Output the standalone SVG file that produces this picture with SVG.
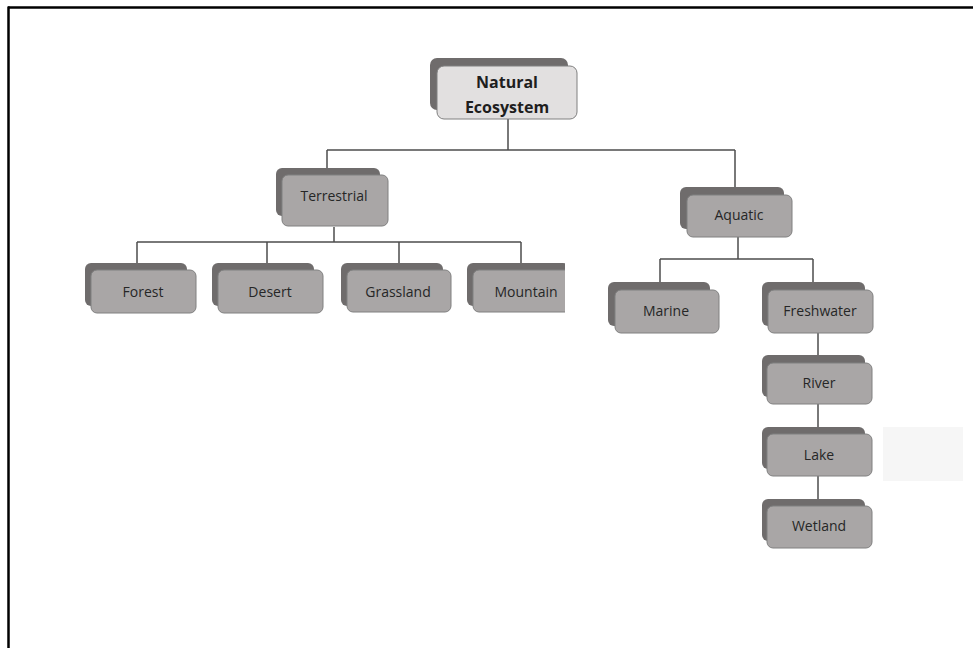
<svg xmlns="http://www.w3.org/2000/svg" width="973" height="648" viewBox="0 0 973 648">
<style>
.back{fill:#6f6c6c;}
.front{fill:#a9a6a6;stroke:#808080;stroke-width:1;}
.front-top{fill:#e2e0e0;stroke:#808080;stroke-width:1;}
.lbl{font-family:"Open Sans","Noto Sans",sans-serif;font-size:14px;fill:#262626;text-anchor:middle;}
.title{font-family:"Open Sans","Noto Sans",sans-serif;font-size:16px;font-weight:bold;fill:#1e1e1e;text-anchor:middle;}
.conn{stroke:#4d4d4d;stroke-width:1.5;fill:none;}
</style>
<defs>
<clipPath id="clipM"><rect x="0" y="0" width="565" height="648"/></clipPath>
</defs>
<rect width="973" height="648" fill="#fff"/>
<g id="frame">
<line x1="8" y1="7.5" x2="973" y2="7.5" stroke="#000" stroke-width="2.5"/>
<line x1="8.5" y1="6.5" x2="8.5" y2="648" stroke="#000" stroke-width="2.5"/>
</g>
<rect x="883" y="427" width="80" height="54" fill="#f6f6f6"/>
<g id="connectors">
<path class="conn" d="M508 119V150M327 150H735M327 150V168M735 150V187"/>
<path class="conn" d="M334 227V242M137 242H521M137 242V263M267 242V263M399 242V263M521 242V263"/>
<path class="conn" d="M738 237V259M660 259H813M660 259V282M813 259V282"/>
<path class="conn" d="M818 333V355M818 404V427M818 476V499"/>
</g>
<g id="natural-ecosystem">
<rect class="back" x="430" y="58" width="138" height="52" rx="7"/>
<rect class="front-top" x="437" y="66" width="140" height="53" rx="7"/>
<text class="title" x="507" y="88">Natural</text>
<text class="title" x="507" y="113">Ecosystem</text>
</g>
<g id="terrestrial">
<rect class="back" x="276" y="168" width="104" height="48" rx="6"/>
<rect class="front" x="282" y="175" width="106" height="51" rx="6"/>
<text class="lbl" x="334" y="201">Terrestrial</text>
</g>
<g id="aquatic">
<rect class="back" x="680" y="187" width="104" height="42" rx="6"/>
<rect class="front" x="687" y="195" width="105" height="42" rx="6"/>
<text class="lbl" x="739" y="220">Aquatic</text>
</g>
<g id="forest">
<rect class="back" x="85" y="263" width="102" height="43" rx="6"/>
<rect class="front" x="91" y="270" width="105" height="43" rx="6"/>
<text class="lbl" x="143" y="297">Forest</text>
</g>
<g id="desert">
<rect class="back" x="212" y="263" width="102" height="43" rx="6"/>
<rect class="front" x="218" y="270" width="105" height="43" rx="6"/>
<text class="lbl" x="270" y="297">Desert</text>
</g>
<g id="grassland">
<rect class="back" x="341" y="263" width="102" height="43" rx="6"/>
<rect class="front" x="347" y="270" width="104" height="42" rx="6"/>
<text class="lbl" x="398" y="297">Grassland</text>
</g>
<g id="mountain" clip-path="url(#clipM)">
<rect class="back" x="467" y="263" width="102" height="43" rx="6"/>
<rect class="front" x="473" y="270" width="105" height="42" rx="6"/>
<text class="lbl" x="526" y="297">Mountain</text>
</g>
<g id="marine">
<rect class="back" x="608" y="282" width="102" height="44" rx="6"/>
<rect class="front" x="615" y="290" width="104" height="43" rx="6"/>
<text class="lbl" x="666" y="316">Marine</text>
</g>
<g id="freshwater">
<rect class="back" x="762" y="282" width="103" height="44" rx="6"/>
<rect class="front" x="768" y="290" width="105" height="43" rx="6"/>
<text class="lbl" x="820" y="316">Freshwater</text>
</g>
<g id="river">
<rect class="back" x="762" y="355" width="103" height="42" rx="6"/>
<rect class="front" x="767" y="363" width="105" height="41" rx="6"/>
<text class="lbl" x="819" y="388">River</text>
</g>
<g id="lake">
<rect class="back" x="762" y="427" width="103" height="42" rx="6"/>
<rect class="front" x="767" y="434" width="105" height="42" rx="6"/>
<text class="lbl" x="819" y="460">Lake</text>
</g>
<g id="wetland">
<rect class="back" x="762" y="499" width="103" height="42" rx="6"/>
<rect class="front" x="767" y="506" width="105" height="42" rx="6"/>
<text class="lbl" x="819" y="531">Wetland</text>
</g>
</svg>
